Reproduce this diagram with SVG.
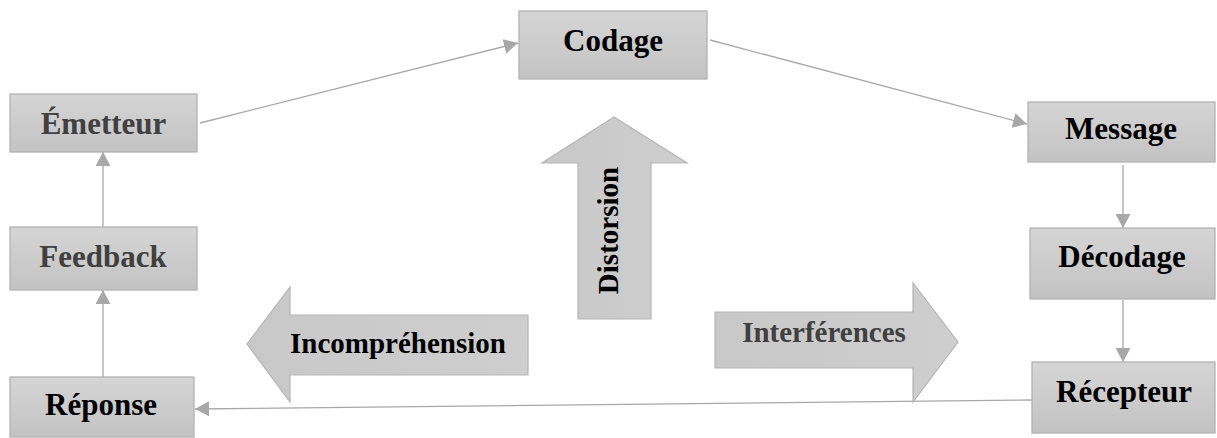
<svg xmlns="http://www.w3.org/2000/svg" width="1217" height="438" viewBox="0 0 1217 438">
  <defs>
    <linearGradient id="boxFill" x1="0" y1="0" x2="0" y2="1">
      <stop offset="0" stop-color="#d5d5d5"/>
      <stop offset="1" stop-color="#c3c3c3"/>
    </linearGradient>
    <linearGradient id="bigArrowH" x1="0" y1="0" x2="1" y2="0">
      <stop offset="0" stop-color="#c8c8c8"/>
      <stop offset="1" stop-color="#cecece"/>
    </linearGradient>
    <marker id="head" markerWidth="16" markerHeight="16" refX="14" refY="7.5" orient="auto" markerUnits="userSpaceOnUse">
      <path d="M0,0 L14,7.5 L0,15 Z" fill="#a8a8a8"/>
    </marker>
    <style>
      .box { fill: url(#boxFill); stroke: #b3b3b3; stroke-width: 1.3; }
      .big { fill: url(#bigArrowH); stroke: #b5b5b5; stroke-width: 1.2; }
      .lbl { font-family: "Liberation Serif", "Times New Roman", serif; font-weight: bold; font-size: 31px; text-anchor: middle; fill: #000; }
      .grey { fill: #404040; }
      .alb { font-size: 29px; }
      .conn { stroke: #a8a8a8; stroke-width: 1.3; fill: none; marker-end: url(#head); }
    </style>
  </defs>

  <rect width="1217" height="438" fill="#ffffff"/>

  <!-- connectors -->
  <g id="connectors">
    <line class="conn" x1="200" y1="123" x2="518" y2="43"/>
    <line class="conn" x1="710" y1="40" x2="1027" y2="124"/>
    <line class="conn" x1="1123" y1="165" x2="1123" y2="228"/>
    <line class="conn" x1="1123" y1="300" x2="1123" y2="362"/>
    <line class="conn" x1="1032" y1="400" x2="195" y2="409"/>
    <line class="conn" x1="103" y1="377" x2="103" y2="290"/>
    <line class="conn" x1="103" y1="227" x2="103" y2="152"/>
  </g>

  <!-- large block arrows -->
  <g id="distorsion">
    <polygon class="big" points="614,117 687,163 651,163 651,319 578,319 578,163 542,163"/>
    <text class="lbl alb" transform="translate(618,230.5) rotate(-90)" x="0" y="0">Distorsion</text>
  </g>
  <g id="incomprehension">
    <polygon class="big" points="247,344 290,287 290,315 528,315 528,375 290,375 290,402"/>
    <text class="lbl alb" x="398" y="353">Incompréhension</text>
  </g>
  <g id="interferences">
    <polygon class="big" points="715,312 913,312 913,283 958,342 913,402 913,368 715,368"/>
    <text class="lbl alb grey" x="824" y="342">Interférences</text>
  </g>

  <!-- nodes -->
  <g id="emetteur">
    <rect class="box" x="10" y="94" width="187" height="58"/>
    <text class="lbl grey" x="103.5" y="134">Émetteur</text>
  </g>
  <g id="codage">
    <rect class="box" x="519" y="11" width="188" height="68"/>
    <text class="lbl" x="613" y="51">Codage</text>
  </g>
  <g id="message">
    <rect class="box" x="1028" y="102" width="187" height="60"/>
    <text class="lbl" x="1121" y="139">Message</text>
  </g>
  <g id="decodage">
    <rect class="box" x="1030" y="228" width="185" height="71"/>
    <text class="lbl" x="1122" y="267">Décodage</text>
  </g>
  <g id="recepteur">
    <rect class="box" x="1032" y="362" width="183" height="71"/>
    <text class="lbl" x="1124" y="402">Récepteur</text>
  </g>
  <g id="reponse">
    <rect class="box" x="10" y="377" width="184" height="60"/>
    <text class="lbl" x="101" y="415">Réponse</text>
  </g>
  <g id="feedback">
    <rect class="box" x="10" y="227" width="187" height="63"/>
    <text class="lbl grey" x="103" y="267">Feedback</text>
  </g>
</svg>
